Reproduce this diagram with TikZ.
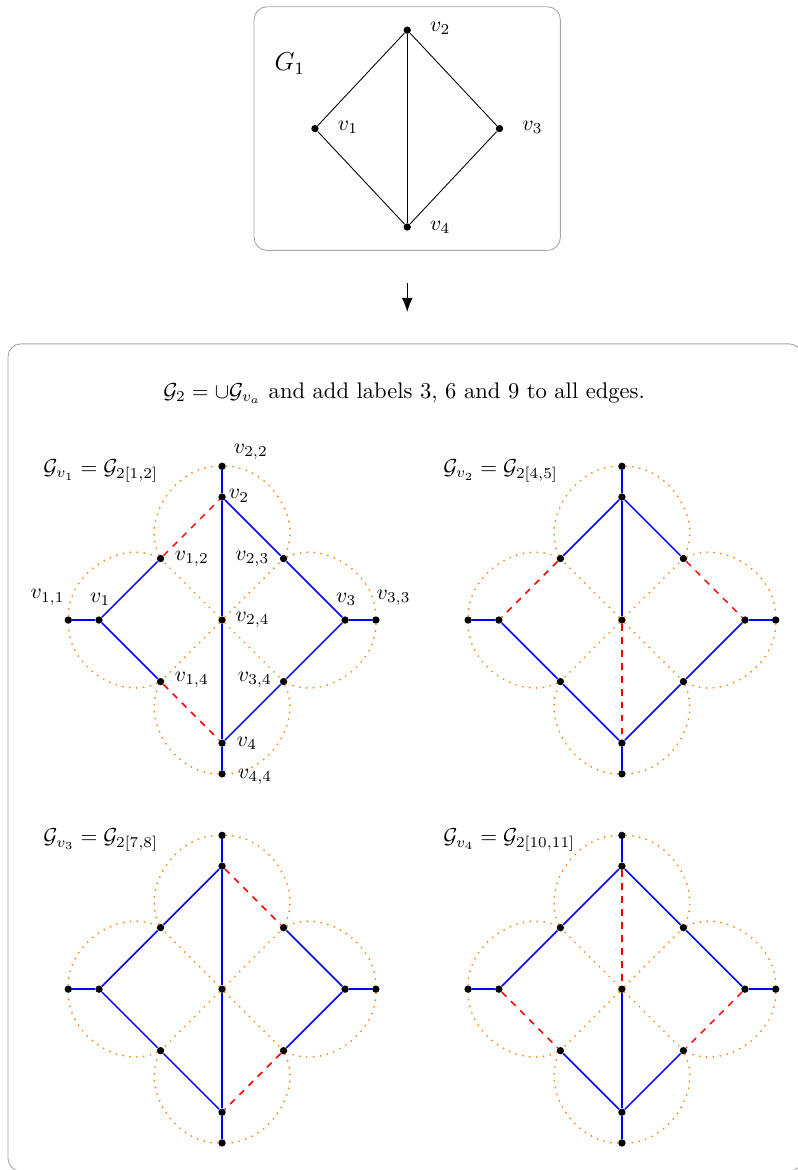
\documentclass[tikz,border=0pt]{standalone}
\usepackage{amsmath}
\usepackage{amssymb}
\usetikzlibrary{arrows.meta}

% one copy of the subdivided graph: #1 name, #2 centre, #3 solid half-edges, #4 dashed half-edges
\newcommand{\vgadget}[4]{%
  \begin{scope}[shift={#2}]
    \node[dot] (#1-1)  at (-2,0)   {};
    \node[dot] (#1-2)  at (0,2)    {};
    \node[dot] (#1-3)  at (2,0)    {};
    \node[dot] (#1-4)  at (0,-2)   {};
    \node[dot] (#1-11) at (-2.5,0) {};
    \node[dot] (#1-22) at (0,2.5)  {};
    \node[dot] (#1-33) at (2.5,0)  {};
    \node[dot] (#1-44) at (0,-2.5) {};
    \node[dot] (#1-12) at (-1,1)   {};
    \node[dot] (#1-23) at (1,1)    {};
    \node[dot] (#1-34) at (1,-1)   {};
    \node[dot] (#1-14) at (-1,-1)  {};
    \node[dot] (#1-24) at (0,0)    {};
  \end{scope}
  \draw[zone] (#1-12) to[out=115,in=180] (#1-22) to[out=0,in=65] (#1-23);
  \draw[zone] (#1-23) to[out=25,in=90] (#1-33) to[out=270,in=335] (#1-34);
  \draw[zone] (#1-34) to[out=295,in=0] (#1-44) to[out=180,in=245] (#1-14);
  \draw[zone] (#1-14) to[out=205,in=270] (#1-11) to[out=90,in=155] (#1-12);
  \foreach \a in {12,23,34,14} \draw[zone] (#1-24) -- (#1-\a);
  \foreach \a/\b in {1/11,2/22,3/33,4/44,#3} \draw[kept] (#1-\a) -- (#1-\b);
  \foreach \a/\b in {#4} \draw[removed] (#1-\a) -- (#1-\b);
}

\begin{document}
\begin{tikzpicture}[>={Latex[length=6.5pt,width=5pt]},
  dot/.style={circle, fill=black, inner sep=0pt, minimum size=3.4pt},
  frame/.style={draw=black!35, rounded corners=6pt},
  kept/.style={draw=blue, line width=0.7pt},
  removed/.style={draw=red, line width=0.7pt, dashed},
  zone/.style={draw=orange, line width=0.9pt, line cap=round, dash pattern=on 0pt off 3.2pt},
  lab/.style={inner sep=1pt},
  title/.style={anchor=west, inner sep=0pt}]
\useasboundingbox (0,0) rectangle (12.96,-19.02);

% G_1
\draw[frame] (4.13,-0.11) rectangle (9.11,-4.07);
\node (g1name) at (4.71,-1.03) {\large $G_1$};
\node[dot] (v1) at (5.12,-2.09) {};
\node[dot] (v2) at (6.62,-0.49) {};
\node[dot] (v3) at (8.12,-2.09) {};
\node[dot] (v4) at (6.62,-3.69) {};
\draw (v1) -- (v2) -- (v3) -- (v4) -- (v1);
\draw (v2) -- (v4);
\node[lab, anchor=west] (lv1) at ([shift={(0.33,0.02)}]v1) {$v_1$};
\node[lab, anchor=west] (lv2) at ([shift={(0.33,0.03)}]v2) {$v_2$};
\node[lab, anchor=west] (lv3) at ([shift={(0.33,0.02)}]v3) {$v_3$};
\node[lab, anchor=west] (lv4) at ([shift={(0.33,0.00)}]v4) {$v_4$};

\coordinate (arrtop) at (6.62,-4.60);
\coordinate (arrbot) at (6.62,-5.07);
\draw[->] (arrtop) -- (arrbot);

% G_2
\draw[frame] (0.13,-5.59) rectangle (13.04,-19.04);
\node (head) at (6.57,-6.39) {\fontsize{10.45}{12}\selectfont $\mathcal{G}_2=\cup\mathcal{G}_{v_a}$ and add labels 3, 6 and 9 to all edges.};

\node[title] (t1) at (0.70,-7.66)  {$\mathcal{G}_{v_1}=\mathcal{G}_{2[1,2]}$};
\node[title] (t2) at (7.20,-7.66)  {$\mathcal{G}_{v_2}=\mathcal{G}_{2[4,5]}$};
\node[title] (t3) at (0.70,-13.66) {$\mathcal{G}_{v_3}=\mathcal{G}_{2[7,8]}$};
\node[title] (t4) at (7.20,-13.66) {$\mathcal{G}_{v_4}=\mathcal{G}_{2[10,11]}$};

\vgadget{ga}{(3.61,-10.08)}{1/12,2/23,23/3,3/34,34/4,1/14,2/24,24/4}{12/2,14/4}
\vgadget{gb}{(10.11,-10.08)}{12/2,2/23,2/24,1/14,14/4,3/34,34/4}{12/1,23/3,24/4}
\vgadget{gc}{(3.61,-16.08)}{1/12,12/2,23/3,3/34,1/14,14/4,2/24,24/4}{2/23,34/4}
\vgadget{gd}{(10.11,-16.08)}{1/12,12/2,2/23,23/3,34/4,14/4,24/4}{1/14,2/24,3/34}

\node[lab, anchor=west]   (la22) at ([shift={(0.15,0.23)}]ga-22)   {$v_{2,2}$};
\node[lab, anchor=west]   (la2)  at ([shift={(0.07,0.02)}]ga-2)    {$v_2$};
\node[lab, anchor=west]   (la12) at ([shift={(0.19,0)}]ga-12)      {$v_{1,2}$};
\node[lab, anchor=east]   (la23) at ([shift={(-0.19,0)}]ga-23)     {$v_{2,3}$};
\node[lab, anchor=west]   (la24) at ([shift={(0.18,0)}]ga-24)      {$v_{2,4}$};
\node[lab, anchor=east]   (la11) at ([shift={(-0.02,0.37)}]ga-11)  {$v_{1,1}$};
\node[lab]                (la1)  at ([shift={(0.02,0.34)}]ga-1)    {$v_1$};
\node[lab]                (la3)  at ([shift={(0.02,0.34)}]ga-3)    {$v_3$};
\node[lab, anchor=west]   (la33) at ([shift={(-0.03,0.36)}]ga-33)  {$v_{3,3}$};
\node[lab, anchor=west]   (la14) at ([shift={(0.19,0.03)}]ga-14)   {$v_{1,4}$};
\node[lab, anchor=east]   (la34) at ([shift={(-0.15,0.03)}]ga-34)  {$v_{3,4}$};
\node[lab, anchor=west]   (la4)  at ([shift={(0.2,0)}]ga-4)        {$v_4$};
\node[lab, anchor=west]   (la44) at ([shift={(0.22,-0.05)}]ga-44)  {$v_{4,4}$};
\end{tikzpicture}
\end{document}
